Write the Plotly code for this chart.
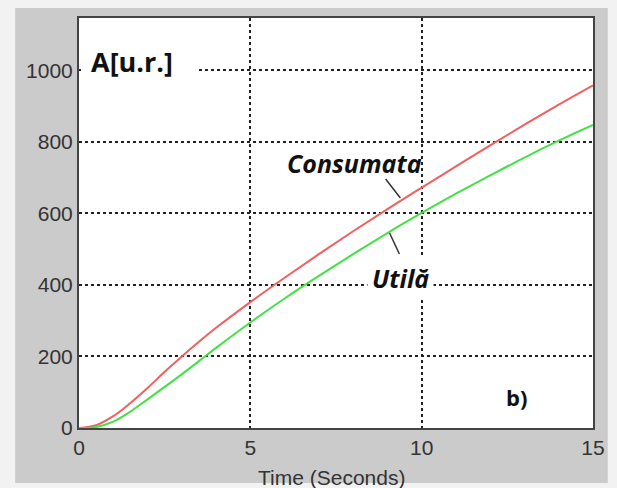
import plotly.graph_objects as go

# Data
time_s = [0, 0.5, 1, 1.5, 2, 2.5, 3, 3.5, 4, 5, 6, 7, 8, 9, 10, 11, 12, 13, 14, 15]
consumata = [0, 8, 33, 70, 112, 157, 200, 241, 280, 352, 420, 486, 550, 612, 672, 731, 790, 848, 904, 958]
utila = [0, 3, 18, 46, 80, 115, 150, 187, 224, 295, 362, 425, 486, 545, 601, 655, 706, 756, 803, 847]

x_ticks = [0, 5, 10, 15]
y_ticks = [0, 200, 400, 600, 800, 1000]

W, H = 617, 488
L, R, T, B = 79, 15, 18, 60
pw, ph = W - L - R, H - T - B


def px(xp):
    return (xp - L) / pw


def py(yp):
    return (H - B - yp) / ph


fig = go.Figure()
fig.add_trace(go.Scatter(x=time_s, y=consumata, mode="lines", name="Consumata",
                         line=dict(color="#f06060", width=2, shape="spline", smoothing=1.0),
                         showlegend=False))
fig.add_trace(go.Scatter(x=time_s, y=utila, mode="lines", name="Utilă",
                         line=dict(color="#44e044", width=2, shape="spline", smoothing=1.0),
                         showlegend=False))

shapes = [
    # gray figure panel
    dict(type="rect", xref="paper", yref="paper", x0=px(14), x1=px(617), y0=py(483), y1=py(8),
         fillcolor="#cbcbcb", line=dict(width=0), layer="below"),
    # white plot area
    dict(type="rect", xref="paper", yref="paper", x0=0, x1=1, y0=0, y1=1,
         fillcolor="white", line=dict(width=0), layer="below"),
    # white patch behind the axis title text
    dict(type="rect", xref="paper", yref="paper", x0=px(81), x1=px(198), y0=py(80), y1=py(46),
         fillcolor="white", line=dict(width=0), layer="above"),
    # leader lines
    dict(type="line", xref="paper", yref="paper", x0=px(391), y0=py(179), x1=px(406), y1=py(198),
         line=dict(color="#333333", width=1.5)),
    dict(type="line", xref="paper", yref="paper", x0=px(395), y0=py(233), x1=px(405), y1=py(254),
         line=dict(color="#333333", width=1.5)),
]

annotations = [
    dict(text="<b>A[u.r.]</b>", xref="paper", yref="paper", x=px(89), y=py(62),
         xanchor="left", yanchor="middle", showarrow=False,
         font=dict(family="Open Sans", size=27, color="#111111")),
    dict(text="<b><i>Consumata</i></b>", xref="paper", yref="paper", x=px(359), y=py(163),
         xanchor="center", yanchor="middle", showarrow=False,
         font=dict(family="Open Sans", size=25, color="#111111")),
    dict(text="<b><i>Utilă</i></b>", xref="paper", yref="paper", x=px(406), y=py(278),
         xanchor="center", yanchor="middle", showarrow=False, bgcolor="white", borderpad=4,
         font=dict(family="Open Sans", size=25, color="#111111")),
    dict(text="<b>b)</b>", xref="paper", yref="paper", x=px(524), y=py(397),
         xanchor="center", yanchor="middle", showarrow=False, bgcolor="white",
         font=dict(family="Open Sans", size=22, color="#111111")),
    dict(text="Time (Seconds)", xref="paper", yref="paper", x=px(336), y=py(477),
         xanchor="center", yanchor="middle", showarrow=False,
         font=dict(family="Liberation Sans", size=21, color="#333333")),
]

axis_common = dict(
    showgrid=True, gridcolor="#222222", gridwidth=1.5, griddash="3px,3px",
    showline=True, linecolor="#444444", linewidth=2, mirror=True,
    zeroline=False, ticks="", fixedrange=True,
    tickfont=dict(family="Liberation Sans", size=21, color="#333333"),
)

fig.update_layout(
    width=W, height=H,
    margin=dict(l=L, r=R, t=T, b=B),
    paper_bgcolor="#f2f2f2",
    plot_bgcolor="white",
    shapes=shapes,
    annotations=annotations,
    xaxis=dict(range=[0, 15], tickvals=x_ticks, ticktext=[str(v) for v in x_ticks], **axis_common),
    yaxis=dict(range=[0, 1146], tickvals=y_ticks, ticktext=[str(v) for v in y_ticks], **axis_common),
)

fig.write_html("out.html")
